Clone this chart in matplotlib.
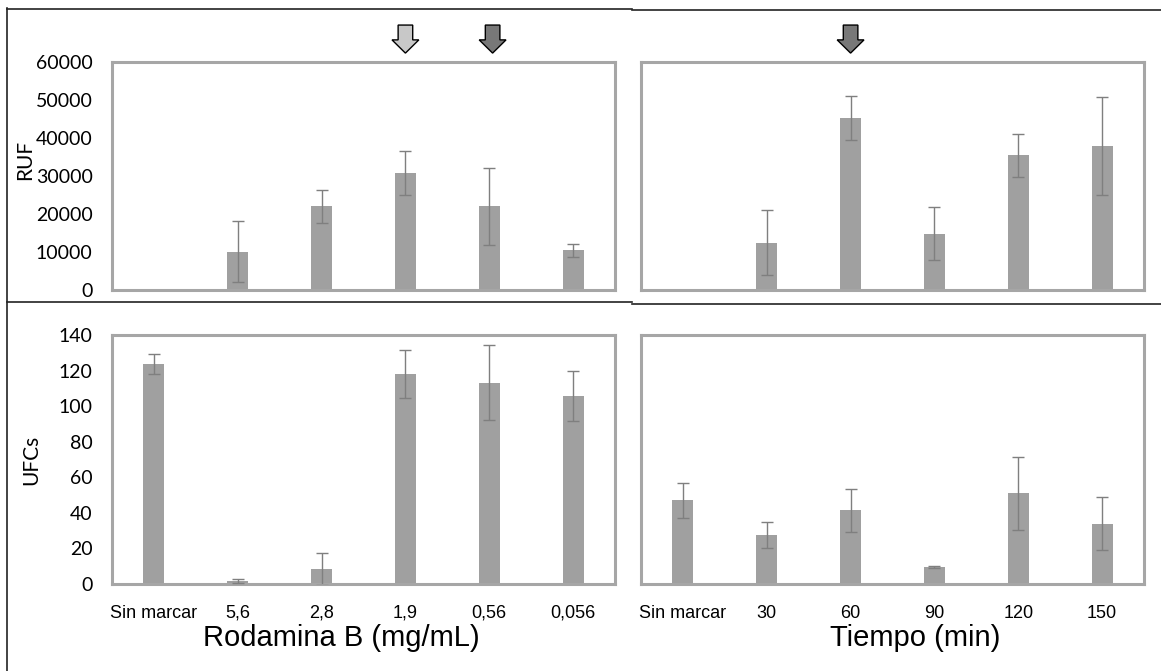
import matplotlib
matplotlib.use("Agg")
import matplotlib.pyplot as plt
from matplotlib.lines import Line2D
from matplotlib.patches import Polygon
from matplotlib.transforms import blended_transform_factory

# --- data ---
conc = ["Sin marcar", "5,6", "2,8", "1,9", "0,56", "0,056"]
ruf_conc = [300, 10100, 22000, 30800, 22000, 10400]
ruf_conc_err = [0, 8100, 4300, 5800, 10100, 1700]
ufc_conc = [123.5, 1.7, 8.5, 118, 113.2, 105.5]
ufc_conc_err = [5.6, 1.2, 8.8, 13.6, 21, 14]

tiempo = ["Sin marcar", "30", "60", "90", "120", "150"]
ruf_time = [0, 12500, 45300, 14800, 35400, 38000]
ruf_time_err = [0, 8600, 5700, 7000, 5700, 12900]
ufc_time = [47, 27.5, 41.5, 9.5, 51, 34]
ufc_time_err = [10, 7.3, 12, 0.5, 20.5, 15]

BAR = "#A0A0A0"
FRAME = "#A6A6A6"
ERR = "#7F7F7F"
W, H = 1161, 671

fig = plt.figure(figsize=(W / 100, H / 100), dpi=100)


def box(x0, y0, x1, y1):
    return [x0 / W, 1 - y1 / H, (x1 - x0) / W, (y1 - y0) / H]


def panel(rect, labels, vals, errs, ymax, ystep, show_y, show_x,
          ylabel=None, ylab_pos=None):
    ax = fig.add_axes(rect)
    x = list(range(len(labels)))
    ax.bar(x, vals, 0.25, color=BAR, zorder=2)
    ex = [i for i in x if errs[i] > 0]
    ax.errorbar(ex, [vals[i] for i in ex], yerr=[errs[i] for i in ex], fmt="none",
                ecolor=ERR, elinewidth=1, capsize=4, capthick=1, zorder=3)
    ax.set_xlim(-0.5, len(labels) - 0.5)
    ax.set_ylim(0, ymax)
    ax.set_yticks(range(0, ymax + 1, ystep))
    for s in ax.spines.values():
        s.set_color(FRAME); s.set_linewidth(2.2)
    ax.tick_params(length=0)
    ax.tick_params(axis="y", pad=14)
    ax.tick_params(axis="x", pad=15)
    if show_y:
        for t in ax.get_yticklabels():
            t.set_fontfamily("Lato"); t.set_fontsize(14)
    else:
        ax.set_yticklabels([])
    ax.set_xticks(x)
    if show_x:
        ax.set_xticklabels(labels, fontsize=13, family="Liberation Sans")
    else:
        ax.set_xticklabels([])
    if ylabel:
        ax.set_ylabel(ylabel, fontsize=15, family="Lato")
        ax.yaxis.set_label_coords(*ylab_pos)
    return ax


def arrow(ax, xc, color):
    tr = blended_transform_factory(ax.transData, ax.transAxes)
    sw, hw = 0.087, 0.16
    pts = [(xc - sw, 1.162), (xc + sw, 1.162), (xc + sw, 1.097), (xc + hw, 1.097),
           (xc, 1.039), (xc - hw, 1.097), (xc - sw, 1.097)]
    ax.add_patch(Polygon(pts, closed=True, transform=tr, clip_on=False,
                         facecolor=color, edgecolor="black", linewidth=1))


ax1 = panel(box(112, 62, 615, 290), conc, ruf_conc, ruf_conc_err, 60000, 10000,
            True, False, "RUF", (-0.153, 0.57))
ax2 = panel(box(641, 62, 1144, 290), tiempo, ruf_time, ruf_time_err, 60000, 10000,
            False, False)
ax3 = panel(box(112, 335, 615, 584), conc, ufc_conc, ufc_conc_err, 140, 20,
            True, True, "UFCs", (-0.14, 0.5))
ax4 = panel(box(641, 335, 1144, 584), tiempo, ufc_time, ufc_time_err, 140, 20,
            False, True)

arrow(ax1, 3, "#C8C8C8")
arrow(ax1, 4.04, "#787878")
arrow(ax2, 2, "#787878")

fig.text(341 / W, 1 - 638 / H, "Rodamina B (mg/mL)", fontsize=21,
         family="Liberation Sans", ha="center", va="center")
fig.text(915 / W, 1 - 638 / H, "Tiempo (min)", fontsize=21,
         family="Liberation Sans", ha="center", va="center")

# black frame lines of the composite
for (x0, y0, x1, y1) in [(7, 8, 7, 671), (7, 8.5, 632, 8.5), (632, 9.5, 1161, 9.5),
                         (7, 302.5, 632, 302.5), (632, 304, 1161, 304)]:
    fig.add_artist(Line2D([x0 / W, x1 / W], [1 - y0 / H, 1 - y1 / H],
                          transform=fig.transFigure, color="#222222", linewidth=1.2))

fig.savefig("out.png", dpi=100)
